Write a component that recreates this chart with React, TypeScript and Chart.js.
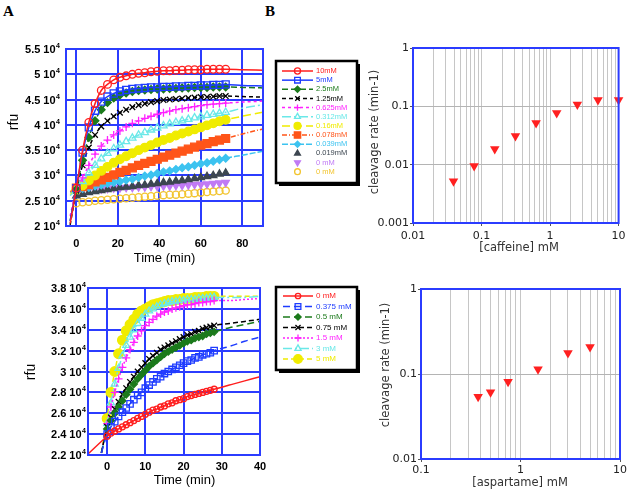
import React, { useEffect, useRef } from 'react';
import { Chart, registerables, PointElement } from 'chart.js';

Chart.register(...registerables);
Chart.defaults.font.family = "'Liberation Sans', Arial, sans-serif";

// ---------------- Panel A (top): caffeine time courses ----------------
const caffeineTimes = [0, 3, 6, 9, 12, 15, 18, 21, 24, 27, 30, 33, 36, 39, 42, 45, 48, 51, 54, 57, 60, 63, 66, 69, 72];
const caffeineLeadTime = -3;
const caffeineTailTimes = [80, 90];
const caffeineLabels = ['10mM', '5mM', '2.5mM', '1.25mM', '0.625mM', '0.312mM', '0.16mM', '0.078mM', '0.039mM', '0.019mM', '0 mM', '0 mM'];
// rfu in units of 10^4
const caffeine10 = [2.75, 3.5, 4.05, 4.42, 4.68, 4.8, 4.89, 4.94, 4.97, 5.0, 5.02, 5.03, 5.05, 5.06, 5.07, 5.07, 5.08, 5.08, 5.09, 5.09, 5.09, 5.1, 5.1, 5.1, 5.1];
const caffeine5 = [2.75, 3.45, 3.95, 4.28, 4.46, 4.56, 4.62, 4.66, 4.69, 4.71, 4.72, 4.73, 4.74, 4.74, 4.75, 4.75, 4.76, 4.76, 4.77, 4.77, 4.78, 4.78, 4.79, 4.79, 4.8];
const caffeine2p5 = [2.72, 3.3, 3.75, 4.08, 4.3, 4.44, 4.53, 4.59, 4.63, 4.66, 4.68, 4.69, 4.7, 4.71, 4.71, 4.72, 4.72, 4.73, 4.73, 4.74, 4.74, 4.74, 4.75, 4.75, 4.75];
const caffeine1p25 = [2.7, 3.2, 3.55, 3.8, 3.97, 4.08, 4.17, 4.24, 4.3, 4.35, 4.39, 4.42, 4.45, 4.47, 4.49, 4.5, 4.51, 4.52, 4.53, 4.54, 4.55, 4.55, 4.56, 4.57, 4.57];
const caffeine0p625 = [2.72, 2.95, 3.2, 3.42, 3.58, 3.7, 3.8, 3.88, 3.96, 4.03, 4.08, 4.13, 4.17, 4.21, 4.24, 4.27, 4.3, 4.32, 4.34, 4.36, 4.38, 4.4, 4.41, 4.42, 4.43];
const caffeine0p312 = [2.72, 2.88, 3.05, 3.2, 3.33, 3.44, 3.53, 3.6, 3.67, 3.74, 3.8, 3.85, 3.9, 3.94, 3.98, 4.02, 4.05, 4.08, 4.11, 4.14, 4.16, 4.19, 4.21, 4.23, 4.25];
const caffeine0p16 = [2.72, 2.8, 2.9, 3.0, 3.09, 3.17, 3.25, 3.32, 3.38, 3.44, 3.5, 3.55, 3.6, 3.65, 3.7, 3.74, 3.79, 3.83, 3.87, 3.91, 3.95, 3.99, 4.03, 4.07, 4.1];
const caffeine0p078 = [2.75, 2.78, 2.82, 2.87, 2.91, 2.96, 3.01, 3.06, 3.1, 3.15, 3.2, 3.24, 3.28, 3.32, 3.36, 3.4, 3.44, 3.48, 3.52, 3.56, 3.6, 3.63, 3.67, 3.7, 3.73];
const caffeine0p039 = [2.72, 2.74, 2.76, 2.79, 2.81, 2.84, 2.86, 2.88, 2.91, 2.93, 2.96, 2.99, 3.01, 3.04, 3.07, 3.09, 3.12, 3.15, 3.17, 3.2, 3.23, 3.25, 3.28, 3.31, 3.34];
const caffeine0p019 = [2.6, 2.63, 2.66, 2.68, 2.7, 2.72, 2.74, 2.76, 2.77, 2.78, 2.8, 2.81, 2.83, 2.84, 2.86, 2.87, 2.89, 2.9, 2.92, 2.94, 2.96, 2.98, 3.0, 3.03, 3.05];
const caffeine0a = [2.7, 2.71, 2.72, 2.73, 2.73, 2.74, 2.75, 2.75, 2.76, 2.76, 2.77, 2.77, 2.78, 2.78, 2.79, 2.79, 2.8, 2.8, 2.81, 2.82, 2.82, 2.83, 2.84, 2.85, 2.86];
const caffeine0b = [2.45, 2.47, 2.48, 2.5, 2.51, 2.52, 2.53, 2.54, 2.55, 2.56, 2.57, 2.58, 2.59, 2.6, 2.61, 2.62, 2.62, 2.63, 2.64, 2.65, 2.66, 2.67, 2.68, 2.69, 2.7];
const caffeineCurves = [caffeine10, caffeine5, caffeine2p5, caffeine1p25, caffeine0p625, caffeine0p312, caffeine0p16, caffeine0p078, caffeine0p039, caffeine0p019, caffeine0a, caffeine0b];
const caffeineLead = [2.05, 2.1, 2.1, 2.02, 2.2, 2.6, 2.62, 2.68, 2.66, null, null, null];
const caffeineTail = [[5.09, 5.08], [4.78, 4.77], [4.74, 4.73], [4.56, 4.55], [4.45, 4.47], [4.33, 4.4], [4.17, 4.25], [3.82, 3.92], [3.4, 3.48], null, null, null];

// ---------------- Panel A (bottom): aspartame time courses ----------------
const aspartameTimes = [0, 1, 2, 3, 4, 5, 6, 7, 8, 9, 10, 11, 12, 13, 14, 15, 16, 17, 18, 19, 20, 21, 22, 23, 24, 25, 26, 27, 28];
const aspartameTailTimes = [32, 36, 40];
const aspartameLabels = ['0 mM', '0.375 mM', '0.5 mM', '0.75 mM', '1.5 mM', '3 mM', '5 mM'];
const aspartame0 = [2.38, 2.41, 2.43, 2.45, 2.47, 2.49, 2.51, 2.53, 2.55, 2.57, 2.59, 2.61, 2.63, 2.64, 2.66, 2.67, 2.69, 2.7, 2.72, 2.73, 2.74, 2.76, 2.77, 2.78, 2.79, 2.8, 2.81, 2.82, 2.83];
const aspartame0p375 = [2.4, 2.47, 2.52, 2.57, 2.61, 2.65, 2.69, 2.73, 2.77, 2.8, 2.84, 2.87, 2.9, 2.93, 2.95, 2.98, 3.0, 3.02, 3.04, 3.06, 3.08, 3.1, 3.11, 3.13, 3.14, 3.16, 3.17, 3.18, 3.2];
const aspartame0p5 = [2.45, 2.53, 2.6, 2.66, 2.72, 2.78, 2.83, 2.88, 2.93, 2.97, 3.01, 3.05, 3.08, 3.11, 3.14, 3.17, 3.19, 3.21, 3.23, 3.25, 3.27, 3.29, 3.3, 3.32, 3.33, 3.34, 3.36, 3.37, 3.38];
const aspartame0p75 = [2.47, 2.56, 2.64, 2.71, 2.78, 2.84, 2.9, 2.95, 3.0, 3.04, 3.08, 3.12, 3.15, 3.18, 3.21, 3.23, 3.25, 3.27, 3.29, 3.31, 3.33, 3.35, 3.36, 3.38, 3.39, 3.41, 3.42, 3.43, 3.44];
const aspartame1p5 = [2.5, 2.66, 2.8, 2.93, 3.04, 3.13, 3.21, 3.28, 3.34, 3.39, 3.44, 3.47, 3.5, 3.53, 3.55, 3.57, 3.58, 3.6, 3.61, 3.62, 3.63, 3.64, 3.64, 3.65, 3.66, 3.66, 3.67, 3.67, 3.68];
const aspartame3 = [2.5, 2.7, 2.88, 3.03, 3.15, 3.25, 3.33, 3.4, 3.46, 3.51, 3.55, 3.58, 3.6, 3.62, 3.64, 3.65, 3.66, 3.67, 3.67, 3.68, 3.68, 3.69, 3.69, 3.69, 3.7, 3.7, 3.7, 3.71, 3.71];
const aspartame5 = [2.55, 2.8, 3.0, 3.17, 3.3, 3.39, 3.45, 3.5, 3.55, 3.58, 3.6, 3.62, 3.64, 3.65, 3.66, 3.67, 3.68, 3.68, 3.69, 3.69, 3.7, 3.7, 3.7, 3.71, 3.71, 3.71, 3.72, 3.72, 3.72];
const aspartameCurves = [aspartame0, aspartame0p375, aspartame0p5, aspartame0p75, aspartame1p5, aspartame3, aspartame5];
const aspartameLeadTimes = [-5, -1.5, -1.5, -1.5, -1.5, -1.5, -1.5];
const aspartameLead = [2.21, 2.22, 2.22, 2.22, 2.22, 2.22, 2.22];
const aspartameTail = [[2.87, 2.91, 2.95], [3.24, 3.29, 3.33], [3.42, 3.45, 3.48], [3.46, 3.48, 3.5], [3.68, 3.69, 3.7], [3.71, 3.71, 3.72], [3.72, 3.72, 3.72]];

// ---------------- Panel B: cleavage rates ----------------
const caffeineConc = [0.039, 0.078, 0.156, 0.3125, 0.625, 1.25, 2.5, 5, 10];
const caffeineRate = [0.0052, 0.0095, 0.0185, 0.031, 0.052, 0.077, 0.108, 0.128, 0.128];
const aspartameConc = [0.375, 0.5, 0.75, 1.5, 3, 5];
const aspartameRate = [0.054, 0.061, 0.081, 0.114, 0.177, 0.208];
const logMantissas = [1, 2, 3, 4, 5, 6, 7, 8, 9];

// ---------------- styles ----------------
type Sty = { color: string; style: string; rot?: number; fill: string; dash: number[]; line: boolean; r: number };
const CLEAR = 'rgba(255,255,255,0)';
const BLUE = '#2b3cff';
const caffeineStyles: Sty[] = [
  { color: '#ff1e1e', style: 'circle', fill: CLEAR, dash: [], line: true, r: 3.8 },
  { color: '#1e3cff', style: 'rect', fill: CLEAR, dash: [], line: true, r: 5 },
  { color: '#1b7a1b', style: 'rectRot', fill: '#1b7a1b', dash: [6, 3], line: true, r: 3.8 },
  { color: '#000000', style: 'crossRot', fill: '#000000', dash: [4, 3], line: true, r: 4 },
  { color: '#ff22ff', style: 'cross', fill: '#ff22ff', dash: [3, 3], line: true, r: 4 },
  { color: '#6ae8e8', style: 'triangle', fill: CLEAR, dash: [9, 3, 2, 3], line: true, r: 4.2 },
  { color: '#f0ec00', style: 'circle', fill: '#f0ec00', dash: [8, 4], line: true, r: 4.3 },
  { color: '#ff5519', style: 'rect', fill: '#ff5519', dash: [5, 2, 1, 2], line: true, r: 5.6 },
  { color: '#3cc3f0', style: 'rectRot', fill: '#3cc3f0', dash: [6, 2], line: true, r: 3.8 },
  { color: '#3c4650', style: 'triangle', fill: '#3c4650', dash: [], line: false, r: 4.2 },
  { color: '#c07af5', style: 'triangle', rot: 180, fill: '#c07af5', dash: [], line: false, r: 4.2 },
  { color: '#f2c42e', style: 'circle', fill: CLEAR, dash: [], line: false, r: 3.6 },
];
const aspartameStyles: Sty[] = [
  { color: '#ff1e1e', style: 'circle', fill: CLEAR, dash: [], line: true, r: 3 },
  { color: '#1e3cff', style: 'rect', fill: CLEAR, dash: [7, 4], line: true, r: 4.5 },
  { color: '#1b7a1b', style: 'rectRot', fill: '#1b7a1b', dash: [7, 4], line: true, r: 3.5 },
  { color: '#000000', style: 'crossRot', fill: '#000000', dash: [5, 3], line: true, r: 4 },
  { color: '#ff22ff', style: 'cross', fill: '#ff22ff', dash: [2, 2], line: true, r: 4 },
  { color: '#6ae8e8', style: 'triangle', fill: CLEAR, dash: [9, 3, 2, 3], line: true, r: 4 },
  { color: '#f0ec00', style: 'circle', fill: '#f0ec00', dash: [5, 3], line: true, r: 4.8 },
];

function buildSeries(times: number[], values: number[], leadT: number, leadV: number | null,
  tailT: number[], tailV: number[] | null, s: Sty) {
  const pts: { x: number; y: number }[] = [];
  if (leadV != null) pts.push({ x: leadT, y: leadV });
  const first = pts.length;
  values.forEach((v, k) => pts.push({ x: times[k], y: v }));
  const last = pts.length - 1;
  if (tailV) tailV.forEach((v, k) => pts.push({ x: tailT[k], y: v }));
  const radius = pts.map((_, k) => (k >= first && k <= last ? s.r : 0));
  return {
    data: pts,
    borderColor: s.color,
    backgroundColor: s.fill,
    borderWidth: 1.5,
    borderDash: s.dash,
    showLine: s.line,
    pointStyle: s.style,
    pointRotation: s.rot || 0,
    pointRadius: radius,
    pointHoverRadius: radius,
    pointBorderColor: s.color,
    pointBackgroundColor: s.fill,
    pointBorderWidth: 1.3,
    cubicInterpolationMode: 'monotone',
  };
}

type TextSpec = { text: string; x: number; y: number; rot?: number; font: string; color: string };
type LegendSpec = { x: number; y: number; w: number; h: number; row0: number; gap: number; lx0: number; lx1: number; tx: number; font: string; markerScale: number; labels: string[]; styles: Sty[] };

function makeDecor(o: { frame: string; sciGap?: number; texts: TextSpec[]; legend?: LegendSpec }) {
  return {
    id: 'decor',
    afterDraw(chart: any) {
      const ctx = chart.ctx as CanvasRenderingContext2D;
      const a = chart.chartArea;
      ctx.save();
      ctx.setLineDash([]);
      ctx.strokeStyle = o.frame;
      ctx.lineWidth = 2;
      ctx.strokeRect(a.left, a.top, a.right - a.left, a.bottom - a.top);
      if (o.sciGap != null) {
        const ys = chart.scales.y;
        const mainFont = "bold 11px 'Liberation Sans', Arial, sans-serif";
        const supFont = "bold 7px 'Liberation Sans', Arial, sans-serif";
        ctx.fillStyle = '#000';
        ctx.textBaseline = 'middle';
        ctx.textAlign = 'left';
        for (const t of ys.ticks) {
          const y = ys.getPixelForValue(t.value);
          const main = `${parseFloat(Number(t.value).toFixed(2))} 10`;
          ctx.font = mainFont;
          const wm = ctx.measureText(main).width;
          ctx.font = supFont;
          const ws = ctx.measureText('4').width;
          const right = a.left - o.sciGap;
          ctx.font = mainFont;
          ctx.fillText(main, right - ws - wm - 0.5, y + 1);
          ctx.font = supFont;
          ctx.fillText('4', right - ws, y - 3);
        }
      }
      for (const t of o.texts) {
        ctx.save();
        ctx.translate(t.x, t.y);
        if (t.rot) ctx.rotate(t.rot);
        ctx.font = t.font;
        ctx.fillStyle = t.color;
        ctx.textAlign = 'center';
        ctx.textBaseline = 'middle';
        ctx.fillText(t.text, 0, 0);
        ctx.restore();
      }
      const L = o.legend;
      if (L) {
        ctx.fillStyle = '#000';
        ctx.fillRect(L.x + 3, L.y + 3, L.w, L.h);
        ctx.fillStyle = '#fff';
        ctx.fillRect(L.x, L.y, L.w, L.h);
        ctx.lineWidth = 2.5;
        ctx.strokeStyle = '#000';
        ctx.strokeRect(L.x, L.y, L.w, L.h);
        L.labels.forEach((lab, i) => {
          const s = L.styles[i];
          const y = L.row0 + i * L.gap;
          if (s.line) {
            ctx.setLineDash(s.dash);
            ctx.strokeStyle = s.color;
            ctx.lineWidth = 1.5;
            ctx.beginPath();
            ctx.moveTo(L.lx0, y);
            ctx.lineTo(L.lx1, y);
            ctx.stroke();
            ctx.setLineDash([]);
          }
          const pe: any = new (PointElement as any)({
            x: (L.lx0 + L.lx1) / 2,
            y,
            options: { pointStyle: s.style, rotation: s.rot || 0, radius: s.r * L.markerScale, borderWidth: 1.3, backgroundColor: s.fill, borderColor: s.color },
          });
          pe.draw(ctx);
          ctx.fillStyle = s.color;
          ctx.font = L.font;
          ctx.textAlign = 'left';
          ctx.textBaseline = 'middle';
          ctx.fillText(lab, L.tx, y);
        });
      }
      ctx.restore();
    },
  };
}

const isDecade = (v: number) => Math.abs(Math.log10(v) - Math.round(Math.log10(v))) < 1e-6;
const decadeLabel = (v: number) => {
  const e = Math.round(Math.log10(v));
  return e >= 0 ? String(Math.round(v)) : v.toFixed(-e);
};
function logTickValues(min: number, max: number) {
  const out: number[] = [];
  for (let e = Math.round(Math.log10(min)); e <= Math.round(Math.log10(max)); e++) {
    for (const m of logMantissas) {
      const v = parseFloat((m * Math.pow(10, e)).toPrecision(6));
      if (v >= min * 0.999 && v <= max * 1.001) out.push(v);
    }
  }
  return out;
}
function decadeValues(min: number, max: number) {
  return logTickValues(min, max).filter(isDecade);
}

function timeCourseConfig(p: {
  datasets: any[]; xmin: number; xmax: number; xstep: number; ymin: number; ymax: number; ystep: number;
  pad: any; yWidth: number; xHeight: number; xPad: number; decor: any;
}) {
  return {
    type: 'line',
    data: { datasets: p.datasets },
    options: {
      responsive: false,
      animation: false,
      events: [],
      layout: { padding: p.pad },
      plugins: { legend: { display: false }, tooltip: { enabled: false } },
      scales: {
        x: {
          type: 'linear', min: p.xmin, max: p.xmax,
          afterFit: (s: any) => { s.height = p.xHeight; },
          ticks: { stepSize: p.xstep, includeBounds: false, padding: p.xPad, autoSkip: false, maxRotation: 0, color: '#000', font: { size: 11, weight: 'bold' } },
          grid: { color: BLUE, lineWidth: 2, drawTicks: false },
          border: { display: false },
        },
        y: {
          type: 'linear', min: p.ymin, max: p.ymax,
          afterFit: (s: any) => { s.width = p.yWidth; },
          ticks: { stepSize: p.ystep, display: false },
          grid: { color: BLUE, lineWidth: 2, drawTicks: false },
          border: { display: false },
        },
      },
    },
    plugins: [p.decor],
  };
}

function rateConfig(p: {
  xs: number[]; ys: number[]; xmin: number; xmax: number; ymin: number; ymax: number;
  pad: any; yWidth: number; xHeight: number; xPad: number; decor: any;
}) {
  const tickFont = { family: "'DejaVu Sans', sans-serif", size: 11 };
  return {
    type: 'scatter',
    data: {
      datasets: [{
        data: p.xs.map((x, i) => ({ x, y: p.ys[i] })),
        pointStyle: 'triangle', pointRotation: 180, pointRadius: 5.5, pointHoverRadius: 5.5,
        backgroundColor: '#ff2020', borderColor: '#ff2020', pointBorderWidth: 0,
        clip: false,
      }],
    },
    options: {
      responsive: false,
      animation: false,
      events: [],
      layout: { padding: p.pad },
      plugins: { legend: { display: false }, tooltip: { enabled: false } },
      scales: {
        x: {
          type: 'logarithmic', min: p.xmin, max: p.xmax,
          afterBuildTicks: (s: any) => { s.ticks = logTickValues(p.xmin, p.xmax).map((v) => ({ value: v, major: isDecade(v) })); },
          afterFit: (s: any) => { s.height = p.xHeight; },
          ticks: { autoSkip: false, maxRotation: 0, padding: p.xPad, color: '#222', font: tickFont, callback: (v: any) => (isDecade(Number(v)) ? decadeLabel(Number(v)) : '') },
          grid: { color: '#c6c6c6', lineWidth: 1, tickLength: 3, tickColor: (c: any) => (c.tick && isDecade(c.tick.value) ? '#555' : 'rgba(0,0,0,0)') },
          border: { display: false },
        },
        y: {
          type: 'logarithmic', min: p.ymin, max: p.ymax,
          afterBuildTicks: (s: any) => { s.ticks = decadeValues(p.ymin, p.ymax).map((v) => ({ value: v, major: true })); },
          afterFit: (s: any) => { s.width = p.yWidth; },
          ticks: { autoSkip: false, padding: 1, color: '#222', font: tickFont, callback: (v: any) => decadeLabel(Number(v)) },
          grid: { color: '#b4b4b4', lineWidth: 1, tickLength: 3, tickColor: '#555' },
          border: { display: false },
        },
      },
    },
    plugins: [p.decor],
  };
}

function Panel(props: { left: number; top: number; width: number; height: number; build: () => any }) {
  const ref = useRef<HTMLCanvasElement>(null);
  useEffect(() => {
    const chart = new Chart(ref.current as HTMLCanvasElement, props.build());
    return () => chart.destroy();
  }, []);
  return (
    <canvas ref={ref} width={props.width} height={props.height}
      style={{ position: 'absolute', left: props.left, top: props.top, width: props.width, height: props.height }} />
  );
}

const labelFont = "'Liberation Sans', Arial, sans-serif";
const dejaFont = "'DejaVu Sans', sans-serif";

function buildTopA() {
  const datasets = caffeineCurves.map((vals, i) =>
    buildSeries(caffeineTimes, vals, caffeineLeadTime, caffeineLead[i], caffeineTailTimes, caffeineTail[i], caffeineStyles[i]));
  return timeCourseConfig({
    datasets, xmin: -5, xmax: 90, xstep: 20, ymin: 2, ymax: 5.5, ystep: 0.5,
    pad: { top: 19, right: 107, left: 0, bottom: 0 }, yWidth: 66, xHeight: 44, xPad: 11.4,
    decor: makeDecor({
      frame: BLUE, sciGap: 6,
      texts: [
        { text: 'rfu', x: 14, y: 92, rot: -Math.PI / 2, font: `14px ${labelFont}`, color: '#000' },
        { text: 'Time (min)', x: 164.5, y: 228, font: `13px ${labelFont}`, color: '#000' },
      ],
      legend: { x: 276, y: 31, w: 81, h: 122, row0: 41, gap: 9.15, lx0: 282, lx1: 313, tx: 316, font: `7.5px ${labelFont}`, markerScale: 0.8, labels: caffeineLabels, styles: caffeineStyles },
    }),
  });
}

function buildBottomA() {
  const datasets = aspartameCurves.map((vals, i) =>
    buildSeries(aspartameTimes, vals, aspartameLeadTimes[i], aspartameLead[i], aspartameTailTimes, aspartameTail[i], aspartameStyles[i]));
  return timeCourseConfig({
    datasets, xmin: -5, xmax: 40, xstep: 10, ymin: 2.2, ymax: 3.8, ystep: 0.2,
    pad: { top: 18, right: 110, left: 0, bottom: 0 }, yWidth: 88, xHeight: 36, xPad: 5.4,
    decor: makeDecor({
      frame: BLUE, sciGap: 2,
      texts: [
        { text: 'rfu', x: 31, y: 102, rot: -Math.PI / 2, font: `14px ${labelFont}`, color: '#000' },
        { text: 'Time (min)', x: 184.5, y: 210, font: `13px ${labelFont}`, color: '#000' },
      ],
      legend: { x: 276, y: 17, w: 81, h: 83, row0: 26, gap: 10.5, lx0: 283, lx1: 313, tx: 316, font: `8px ${labelFont}`, markerScale: 0.9, labels: aspartameLabels, styles: aspartameStyles },
    }),
  });
}

function buildTopB() {
  return rateConfig({
    xs: caffeineConc, ys: caffeineRate, xmin: 0.01, xmax: 10, ymin: 0.001, ymax: 1,
    pad: { top: 18, right: 10, left: 0, bottom: 0 }, yWidth: 53, xHeight: 47, xPad: 3.4,
    decor: makeDecor({
      frame: BLUE,
      texts: [
        { text: 'cleavage rate (min-1)', x: 15, y: 102, rot: -Math.PI / 2, font: `11.5px ${dejaFont}`, color: '#333' },
        { text: '[caffeine] mM', x: 159, y: 218, font: `11.5px ${dejaFont}`, color: '#333' },
      ],
    }),
  });
}

function buildBottomB() {
  return rateConfig({
    xs: aspartameConc, ys: aspartameRate, xmin: 0.1, xmax: 10, ymin: 0.01, ymax: 1,
    pad: { top: 19, right: 9, left: 0, bottom: 0 }, yWidth: 61, xHeight: 32, xPad: 1.4,
    decor: makeDecor({
      frame: BLUE,
      texts: [
        { text: 'cleavage rate (min-1)', x: 26, y: 95, rot: -Math.PI / 2, font: `11.5px ${dejaFont}`, color: '#333' },
        { text: '[aspartame] mM', x: 160, y: 213, font: `11.5px ${dejaFont}`, color: '#333' },
      ],
    }),
  });
}

export default function App() {
  const letter: React.CSSProperties = { position: 'absolute', fontFamily: "'Liberation Serif', 'Times New Roman', serif", fontWeight: 'bold', fontSize: 15, lineHeight: '15px' };
  return (
    <div style={{ position: 'absolute', left: 0, top: 0, width: 629, height: 491, background: '#fff', overflow: 'hidden' }}>
      <div style={{ ...letter, left: 3, top: 4 }}>A</div>
      <div style={{ ...letter, left: 265, top: 4 }}>B</div>
      <Panel left={0} top={30} width={370} height={240} build={buildTopA} />
      <Panel left={0} top={270} width={370} height={221} build={buildBottomA} />
      <Panel left={360} top={30} width={269} height={240} build={buildTopB} />
      <Panel left={360} top={270} width={269} height={221} build={buildBottomB} />
    </div>
  );
}
